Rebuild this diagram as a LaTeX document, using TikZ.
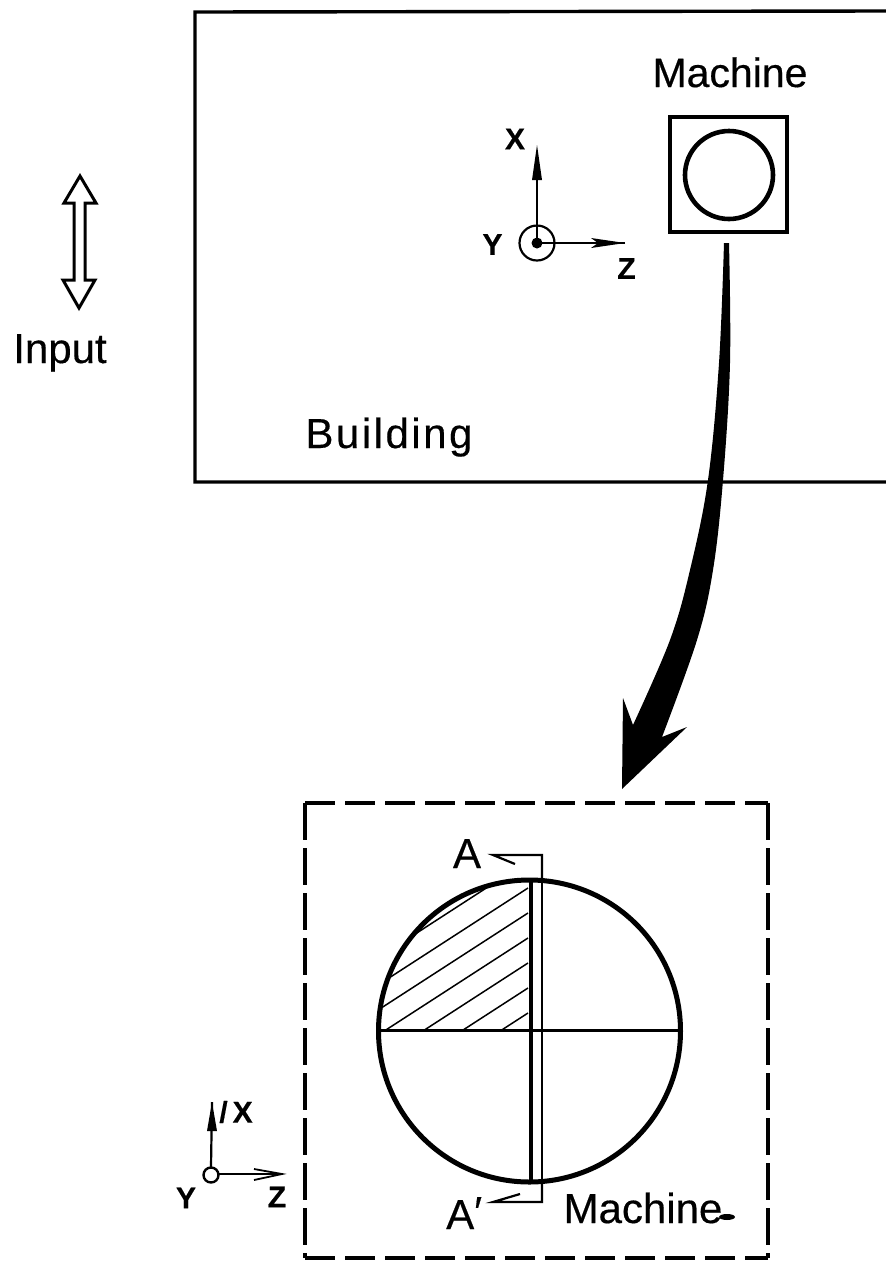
\documentclass[tikz,border=0pt]{standalone}
\usepackage{fontspec}
\setmainfont{Liberation Sans}[FakeBold=0.4]
\tikzset{
  x=1pt,y=-1pt,
  lbl/.style={inner sep=0pt,anchor=base,font=\fontsize{42}{42}\selectfont},
  axlbl/.style={inner sep=0pt,font=\fontsize{30}{30}\selectfont\bfseries},
  heavy/.style={line width=5pt},
  med/.style={line width=3.4pt},
  thin line/.style={line width=2pt},
  hdash/.style={line width=3.2pt,dash pattern=on 30pt off 10pt},
  vdash/.style={line width=3.6pt,dash pattern=on 37pt off 8pt},
}
\begin{document}
\begin{tikzpicture}
\useasboundingbox (0,0) rectangle (886,1262);
% Building
\draw[med] (886,11) -- (195,12) -- (195,482) -- (886,482);
\node[lbl] (building) at (389,448) {\addfontfeature{LetterSpace=6}Building};
% Machine
\node[lbl,font=\fontsize{41}{41}\selectfont] (machine) at (730,87) {Machine};
\draw[line width=4.6pt] (670,117) rectangle (787,232);
\draw[line width=4.6pt] (729,175) circle (44);
% Axes top
\coordinate (o1) at (537,243);
\coordinate (x1) at (537,145);
\coordinate (z1) at (625,243);
\draw[line width=2.2pt] (o1) circle (17.5);
\fill (o1) circle (5.5);
\draw[line width=2.2pt] (o1) -- (537,175);
\fill (x1) -- (542,180) -- (532,180) -- cycle;
\draw[line width=2pt] (o1) -- (z1);
\fill (z1) -- (591,238) -- (598,243) -- (591,248) -- cycle;
\node[axlbl] (xa) at (515,139) {X};
\node[axlbl] (ya) at (492.5,244.5) {Y};
\node[axlbl] (za) at (626.5,268.5) {Z};
% Input arrow
\draw[line width=3pt,line join=miter]
  (80,176) -- (96,203) -- (85,203) -- (85,280) -- (95,280) -- (79,308)
  -- (63,280) -- (74,280) -- (74,203) -- (64,203) -- cycle;
\node[lbl] (input) at (60,363) {Input};
% Curved arrow
\fill plot[smooth,tension=0.6] coordinates {(724,243) (719,363) (708,480) (690,570) (670,640) (633,725)}
  -- (623,698) -- (622,789) -- (687,727) -- (662,737)
  -- plot[smooth,tension=0.6] coordinates {(662,737) (697,640) (713,570) (723,480) (730,363) (729,243)} -- cycle;
% Dashed box
\draw[hdash] (305,803) -- (768,803);
\draw[hdash] (305,1258) -- (768,1258);
\draw[vdash] (305,803) -- (305,1258);
\draw[vdash] (768,803) -- (768,1258);
% Large section
\coordinate (c) at (529.5,1031);
\begin{scope}
  \clip (c) circle (151);
  \clip (370,870) rectangle (530,1030);
  \foreach \yy in {861,888,913,938,963,988,1013}
    \draw[line width=1.5pt] (528,\yy) -- ++(-240,155.3);
\end{scope}
\draw[heavy] (c) circle (151);
\draw[line width=3pt] (378,1030) -- (681,1030);
\draw[line width=4.8pt] (531,881) -- (531,1181);
\draw[thin line] (542,881) -- (542,1181);
% Section marks
\coordinate (a1) at (493,855);
\coordinate (a2) at (493,1202);
\draw[line width=2.2pt] (542,881) -- (542,855) -- (a1) -- (515,864);
\draw[line width=2.2pt] (542,1181) -- (542,1202) -- (a2) -- (520,1194);
\node[lbl] (A) at (467,868) {A};
\node[lbl,anchor=base west] (Ap) at (446,1229) {A\raisebox{3pt}{′}};
\node[lbl] (machine2) at (643,1223) {Machine};
\fill (727,1217) ellipse (8 and 3);
% Axes bottom
\coordinate (o2) at (211,1175);
\coordinate (x2) at (212,1102);
\coordinate (z2) at (282,1174);
\draw[line width=2.4pt] (o2) circle (7.5);
\draw[line width=2.2pt] (211,1167) -- (x2);
\fill (x2) -- (217,1131) -- (207,1131) -- cycle;
\draw[line width=1.8pt] (219,1174) -- (z2);
\draw[line width=1.8pt] (254,1169) -- (z2) -- (254,1180);
\node[axlbl] (xb) at (236,1112) {/\,X};
\node[axlbl] (yb) at (186,1198) {Y};
\node[axlbl] (zb) at (277,1197) {Z};
\end{tikzpicture}
\end{document}
